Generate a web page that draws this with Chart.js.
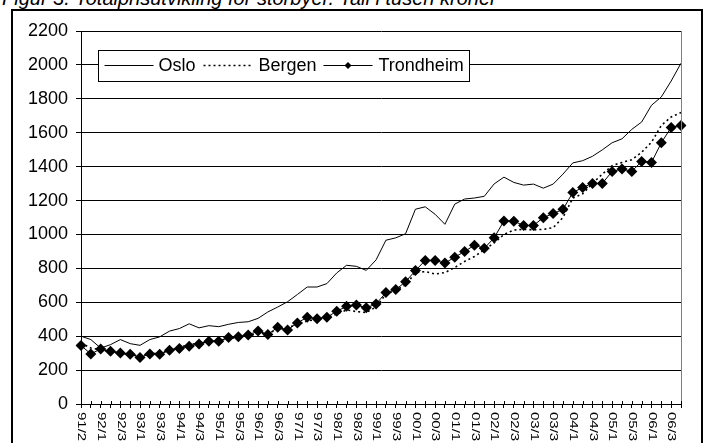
<!DOCTYPE html>
<html><head><meta charset="utf-8">
<script src="https://cdn.jsdelivr.net/npm/chart.js@4"></script>
<style>
html,body{margin:0;padding:0;background:#fff;width:707px;height:443px;overflow:hidden;}
#frame{position:absolute;left:11px;top:9px;width:688px;height:470px;border:2px solid #000;}
#title{position:absolute;left:2px;top:-13px;font:italic 20px "Liberation Sans",Arial,sans-serif;line-height:23px;white-space:nowrap;color:#000;}
canvas{position:absolute;left:0;top:0;}
</style></head><body>
<div id="title">Figur 3. Totalprisutvikling for storbyer. Tall i tusen kroner</div>
<div id="frame"></div>
<canvas id="c" width="707" height="443"></canvas>
<script>
const categories = ["91/3","91/4",
 "92/1","92/2","92/3","92/4","93/1","93/2","93/3","93/4","94/1","94/2","94/3","94/4",
 "95/1","95/2","95/3","95/4","96/1","96/2","96/3","96/4","97/1","97/2","97/3","97/4",
 "98/1","98/2","98/3","98/4","99/1","99/2","99/3","99/4","00/1","00/2","00/3","00/4",
 "01/1","01/2","01/3","01/4","02/1","02/2","02/3","02/4","03/1","03/2","03/3","03/4",
 "04/1","04/2","04/3","04/4","05/1","05/2","05/3","05/4","06/1","06/2","06/3","06/4"];
const tickLabels = ["91/2","92/1","92/3","93/1","93/3","94/1","94/3","95/1","95/3","96/1","96/3",
 "97/1","97/3","98/1","98/3","99/1","99/3","00/1","00/3","01/1","01/3","02/1","02/3",
 "03/1","03/3","04/1","04/3","05/1","05/3","06/1","06/3"];
const yTicks = [0,200,400,600,800,1000,1200,1400,1600,1800,2000,2200];
const seriesNames = ["Oslo","Bergen","Trondheim"];
const oslo = [400,380,330,350,380,356,346,380,396,430,
 445,473,449,462,456,470,481,485,505,543,
 572,603,646,690,690,710,773,818,812,788,
 850,966,980,1004,1149,1163,1119,1060,1179,1209,
 1215,1225,1298,1338,1307,1291,1297,1273,1297,1356,
 1422,1435,1461,1499,1541,1564,1620,1663,1762,1811,
 1905,2010];
const bergen = [360,330,320,310,300,290,285,295,300,315,
 335,350,360,365,375,385,395,405,415,420,
 435,450,470,490,500,510,530,555,545,540,
 572,648,671,702,775,781,767,775,805,841,
 870,910,950,1000,1026,1030,1027,1030,1040,1100,
 1215,1240,1301,1356,1406,1425,1440,1485,1544,1643,
 1693,1719];
const trondheim = [345,295,325,311,301,293,275,295,293,317,
 327,341,354,370,370,392,397,407,430,410,
 453,437,478,512,503,512,547,576,584,567,
 590,657,675,721,787,847,847,831,866,900,
 936,918,980,1080,1078,1053,1053,1099,1123,1148,
 1247,1277,1301,1301,1372,1386,1372,1431,1425,1541,
 1631,1643];

const FONT = '"Liberation Sans", Arial, sans-serif';

const deco = {
  id: 'deco',
  afterDraw(chart) {
    const {ctx, chartArea: a, scales: {x, y}} = chart;
    ctx.save();
    // plot area right border
    ctx.strokeStyle = '#808080'; ctx.lineWidth = 1;
    ctx.beginPath(); ctx.moveTo(Math.round(a.right) + 0.5, a.top); ctx.lineTo(Math.round(a.right) + 0.5, a.bottom); ctx.stroke();
    // tick marks crossing the axis (upper half)
    ctx.strokeStyle = '#000';
    ctx.beginPath();
    for (let i = 0; i < categories.length; i++) {
      const px = Math.round(x.getPixelForTick(i)) + 0.5;
      ctx.moveTo(px, a.bottom - 3); ctx.lineTo(px, a.bottom);
    }
    ctx.stroke();
    // rotated category labels (reading downward)
    ctx.fillStyle = '#000';
    ctx.font = '10px ' + FONT;
    ctx.textAlign = 'left'; ctx.textBaseline = 'middle';
    tickLabels.forEach((t, k) => {
      const px = x.getPixelForTick(k * 2);
      ctx.save();
      ctx.translate(px, a.bottom + 8);
      ctx.rotate(Math.PI / 2);
      ctx.scale(1.5, 1);
      ctx.fillText(t, 0, 0);
      ctx.restore();
    });
    // legend
    const bx = Math.round(a.left) + 17.5, byc = Math.round(y.getPixelForValue(2000)) + 0.5;
    const by = byc - 15, bw = 371, bh = 31;
    ctx.fillStyle = '#fff'; ctx.fillRect(bx, by, bw, bh);
    ctx.strokeStyle = '#000'; ctx.lineWidth = 1; ctx.strokeRect(bx, by, bw, bh);
    const ds = chart.data.datasets;
    const items = [[6, 55, 60], [105, 152, 160], [225, 274, 280]];
    ctx.font = '18px ' + FONT; ctx.textBaseline = 'middle'; ctx.textAlign = 'left';
    items.forEach((it, i) => {
      const d = ds[i];
      ctx.save();
      ctx.strokeStyle = '#000'; ctx.lineWidth = d.borderWidth;
      ctx.setLineDash(d.borderDash || []);
      ctx.beginPath(); ctx.moveTo(bx + it[0], byc); ctx.lineTo(bx + it[1], byc); ctx.stroke();
      ctx.restore();
      if (d.pointRadius > 0) {
        const cx = bx + (it[0] + it[1]) / 2;
        ctx.beginPath(); ctx.moveTo(cx, byc - 3.5); ctx.lineTo(cx + 3.5, byc); ctx.lineTo(cx, byc + 3.5); ctx.lineTo(cx - 3.5, byc); ctx.closePath();
        ctx.fillStyle = '#000'; ctx.fill();
      }
      ctx.fillStyle = '#000';
      ctx.fillText(d.label, bx + it[2], byc + 1);
    });
    ctx.restore();
  }
};

new Chart(document.getElementById('c'), {
  type: 'line',
  data: {
    labels: categories,
    datasets: [
      {label: seriesNames[0], data: oslo, borderColor: '#000', borderWidth: 1, pointRadius: 0, tension: 0, fill: false},
      {label: seriesNames[1], data: bergen, borderColor: '#000', borderWidth: 1.6, borderDash: [2, 3], pointRadius: 0, tension: 0, fill: false},
      {label: seriesNames[2], data: trondheim, borderColor: '#000', backgroundColor: '#000', borderWidth: 1, pointStyle: 'rectRot', pointRadius: 5.5, pointBorderWidth: 0, pointBackgroundColor: '#000', tension: 0, fill: false}
    ]
  },
  options: {
    responsive: false, animation: false, devicePixelRatio: 1,
    layout: {padding: {top: 31, right: 26, bottom: 0, left: 0}},
    plugins: {legend: {display: false}, title: {display: false}, tooltip: {enabled: false}},
    scales: {
      x: {
        type: 'category', offset: false,
        grid: {display: true, drawOnChartArea: false, drawTicks: true, tickLength: 4, color: '#000', lineWidth: 1},
        border: {display: true, color: '#000', width: 1},
        ticks: {display: false, autoSkip: false},
        afterFit(s) { s.height = 39; }
      },
      y: {
        min: 0, max: 2200,
        afterBuildTicks(s) { s.ticks = yTicks.map(v => ({value: v})); },
        grid: {color: '#000', lineWidth: 1, drawTicks: true, tickLength: 5},
        border: {display: true, color: '#000', width: 1},
        ticks: {color: '#000', font: {family: FONT, size: 18}, padding: 8, callback: v => String(v)},
        afterFit(s) { s.width = 81; }
      }
    }
  },
  plugins: [deco]
});
</script>
</body></html>
